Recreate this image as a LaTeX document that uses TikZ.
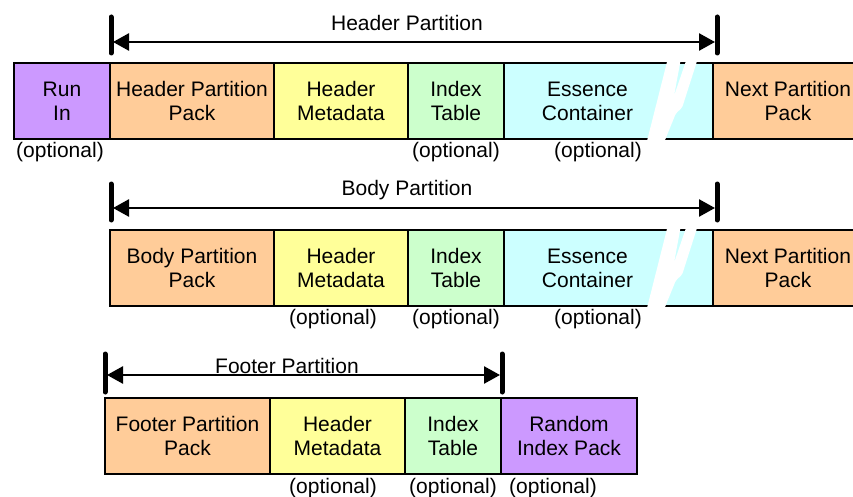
\documentclass[tikz,border=0pt]{standalone}
\usepackage{fontspec}
\setmainfont{Liberation Sans}
\usepackage{xcolor}
\usepackage{tikz}
\usetikzlibrary{arrows.meta, positioning}

\definecolor{runpurple}{HTML}{CC99FF}
\definecolor{packorange}{HTML}{FFCC99}
\definecolor{metayellow}{HTML}{FFFF99}
\definecolor{indexgreen}{HTML}{CCFFCC}
\definecolor{essencecyan}{HTML}{CCFFFF}

\newcommand{\breakmark}[1]{%
  \fill[white, rounded corners=2pt, shift={(0,#1)}] (646,145) -- (668,58) -- (681,58) -- (674,96) -- (687,58) -- (698,58) -- (682,108) -- (676,113) -- (663,145) -- cycle;}

\begin{document}
\begin{tikzpicture}[x=1pt, y=-1pt, font=\fontsize{21}{24}\selectfont, box/.style={rectangle, draw, line width=1.5pt, outer sep=0pt, inner sep=0pt, minimum height=76pt, align=center, anchor=west}, opt/.style={inner sep=0pt}, span/.style={{Triangle[length=16pt,width=17pt]}-{Triangle[length=16pt,width=17pt]}, line width=2.5pt}, bar/.style={line width=5pt, line cap=round}]
\useasboundingbox (0,0) rectangle (853,497);
\clip (0,0) rectangle (853,497);
% header partition
\node[box, fill=runpurple, minimum width=96pt] (r) at (14,101) {Run\\In};
\node[box, fill=packorange, minimum width=164pt, right=0pt of r] (hp) {Header Partition\\Pack};
\node[box, fill=metayellow, minimum width=134pt, right=0pt of hp] (hm) {Header\\Metadata};
\node[box, fill=indexgreen, minimum width=96pt, right=0pt of hm] (hi) {Index\\Table};
\node[box, fill=essencecyan, minimum width=209pt, right=0pt of hi] (he) {Essence\hspace*{42pt}\\Container\hspace*{42pt}};
\node[box, fill=packorange, minimum width=150pt, right=0pt of he] (hn) {Next Partition\\Pack};
\breakmark{0}
\node[opt] (ho1) at (60,152) {(optional)};
\node[opt] (ho2) at (456,152) {(optional)};
\node[opt] (ho3) at (598,152) {(optional)};
\draw[bar] (111,17) -- (111,53); \draw[bar] (717,17) -- (717,53);
\coordinate (h1) at (113,42); \coordinate (h2) at (715,42);
\draw[span] (h1) -- (h2);
\node (ht) at (407,23) {Header Partition};
% body partition
\node[box, fill=packorange, minimum width=164pt] (bp) at (110,268) {Body Partition\\Pack};
\node[box, fill=metayellow, minimum width=134pt, right=0pt of bp] (bm) {Header\\Metadata};
\node[box, fill=indexgreen, minimum width=96pt, right=0pt of bm] (bi) {Index\\Table};
\node[box, fill=essencecyan, minimum width=209pt, right=0pt of bi] (be) {Essence\hspace*{42pt}\\Container\hspace*{42pt}};
\node[box, fill=packorange, minimum width=150pt, right=0pt of be] (bn) {Next Partition\\Pack};
\breakmark{167}
\node[opt] (bo1) at (333,319) {(optional)};
\node[opt] (bo2) at (456,319) {(optional)};
\node[opt] (bo3) at (598,319) {(optional)};
\draw[bar] (111,184) -- (111,220); \draw[bar] (717,184) -- (717,220);
\coordinate (b1) at (113,208); \coordinate (b2) at (715,208);
\draw[span] (b1) -- (b2);
\node (bt) at (407,190) {Body Partition};
% footer partition
\node[box, fill=packorange, minimum width=165pt] (fp) at (105,436) {Footer Partition\\Pack};
\node[box, fill=metayellow, minimum width=135pt, right=0pt of fp] (fm) {Header\\Metadata};
\node[box, fill=indexgreen, minimum width=96pt, right=0pt of fm] (fi) {Index\\Table};
\node[box, fill=runpurple, minimum width=136pt, right=0pt of fi] (fr) {Random\\Index Pack};
\node[opt] (fo1) at (333,488) {(optional)};
\node[opt] (fo2) at (453,488) {(optional)};
\node[opt] (fo3) at (553,488) {(optional)};
\draw[bar] (105,354) -- (105,392); \draw[bar] (502,354) -- (502,392);
\coordinate (f1) at (107,375); \coordinate (f2) at (500,375);
\draw[span] (f1) -- (f2);
\node (ft) at (287,366) {Footer Partition};
\end{tikzpicture}
\end{document}
